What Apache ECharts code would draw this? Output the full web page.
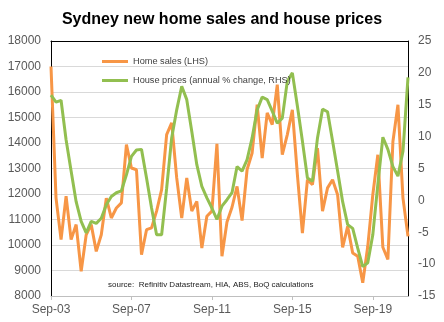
<!DOCTYPE html>
<html>
<head>
<meta charset="utf-8">
<script src="https://cdn.jsdelivr.net/npm/echarts@6/dist/echarts.min.js"></script>
<style>html,body{margin:0;padding:0;background:#fff}#c{width:444px;height:322px}</style>
</head>
<body>
<div id="c"></div>
<script>
var categories = [
 'Sep-03','Dec-03','Mar-04','Jun-04','Sep-04','Dec-04','Mar-05','Jun-05','Sep-05','Dec-05','Mar-06','Jun-06',
 'Sep-06','Dec-06','Mar-07','Jun-07','Sep-07','Dec-07','Mar-08','Jun-08','Sep-08','Dec-08','Mar-09','Jun-09',
 'Sep-09','Dec-09','Mar-10','Jun-10','Sep-10','Dec-10','Mar-11','Jun-11','Sep-11','Dec-11','Mar-12','Jun-12',
 'Sep-12','Dec-12','Mar-13','Jun-13','Sep-13','Dec-13','Mar-14','Jun-14','Sep-14','Dec-14','Mar-15','Jun-15',
 'Sep-15','Dec-15','Mar-16','Jun-16','Sep-16','Dec-16','Mar-17','Jun-17','Sep-17','Dec-17','Mar-18','Jun-18',
 'Sep-18','Dec-18','Mar-19','Jun-19','Sep-19','Dec-19','Mar-20','Jun-20','Sep-20','Dec-20','Mar-21','Jun-21'
];
var homeSales = [
 17000,11840,10210,11910,10210,10800,8970,10400,10800,9750,10400,11840,
 11060,11450,11650,13940,13020,12950,9620,10600,10670,11330,12170,14330,
 14790,12630,11060,12630,11330,11710,9880,11130,11330,13970,9560,10900,
 11480,12300,10960,12960,13610,15500,13410,15180,14720,16290,13540,14330,
 15300,12760,10470,12560,12370,13800,11330,12240,12560,11970,9910,10730,
 9690,9560,8520,9950,11970,13540,9910,9430,14060,15500,11840,10340
];
var housePrices = [
 16.5,15.4,15.7,9.5,4.6,-0.2,-3.3,-5.1,-3.3,-3.6,-2.8,-0.7,
 0.6,1.2,1.5,4.0,6.9,7.9,8.0,3.5,-1.2,-5.4,-5.4,1.9,
 9.8,14.2,17.9,15.8,10.8,5.6,2.2,0.4,-1.2,-3.0,-0.9,0.1,
 1.2,5.3,4.6,6.4,9.8,14.2,16.2,15.8,14.0,12.1,12.9,18.7,
 20.0,14.8,9.3,3.5,3.0,9.8,14.3,13.9,9.3,4.6,-0.2,-3.8,
 -4.4,-7.5,-10.4,-9.8,-5.4,2.5,9.9,8.0,5.3,3.8,7.7,19.3
];
var seriesNames = ['Home sales (LHS)', 'House prices (annual % change, RHS)'];
var titleText = 'Sydney new home sales and house prices';
var sourceText = 'source:  Refinitiv Datastream, HIA, ABS, BoQ calculations';

var FONT = '"Liberation Sans", Arial, sans-serif';
var ORANGE = '#F79646', GREEN = '#92BF50';
var chart = echarts.init(document.getElementById('c'), null, {renderer: 'canvas'});
chart.setOption({
  animation: false,
  backgroundColor: '#ffffff',
  textStyle: {fontFamily: FONT},
  title: {
    text: titleText, left: 'center', top: 7,
    textStyle: {fontFamily: FONT, fontSize: 16, fontWeight: 'bold', color: '#000'}
  },
  legend: {
    orient: 'vertical', left: 102, top: 56, padding: 0,
    icon: 'rect', itemWidth: 26, itemHeight: 3, itemGap: 8,
    textStyle: {fontFamily: FONT, fontSize: 9.2, color: '#404040', lineHeight: 11},
    data: seriesNames
  },
  graphic: [{
    type: 'text', left: 108, top: 281,
    style: {text: sourceText, font: '8px ' + FONT, fill: '#222'}
  }],
  grid: {left: 51, right: 36, top: 41, bottom: 26, containLabel: false},
  xAxis: [{
    type: 'category', data: categories, boundaryGap: false, position: 'bottom',
    axisLine: {onZero: false, lineStyle: {color: '#BFBFBF', width: 1}},
    axisTick: {interval: 15, length: 4, lineStyle: {color: '#BFBFBF'}},
    axisLabel: {interval: 15, fontSize: 12, color: '#595959', margin: 8, fontFamily: FONT},
    splitLine: {show: false}
  }, {
    type: 'category', data: categories, boundaryGap: false, position: 'top',
    axisLine: {onZero: false, lineStyle: {color: '#000', width: 1}},
    axisTick: {show: false}, axisLabel: {show: false}, splitLine: {show: false}
  }],
  yAxis: [{
    type: 'value', min: 8000, max: 18000, interval: 1000, position: 'left',
    axisLine: {show: true, onZero: false, lineStyle: {color: '#000', width: 1}},
    axisTick: {show: false},
    axisLabel: {fontSize: 12, color: '#595959', margin: 10, fontFamily: FONT,
      formatter: function (v) { return String(v); }},
    splitLine: {show: true, lineStyle: {color: '#D9D9D9', width: 1}}
  }, {
    type: 'value', min: -15, max: 25, interval: 5, position: 'right',
    axisLine: {show: true, onZero: false, lineStyle: {color: '#000', width: 1}},
    axisTick: {show: false},
    axisLabel: {fontSize: 12, color: '#595959', margin: 10, fontFamily: FONT,
      formatter: function (v) { return String(v); }},
    splitLine: {show: false}
  }],
  series: [{
    name: seriesNames[0], type: 'line', data: homeSales, yAxisIndex: 0, xAxisIndex: 0,
    symbol: 'none', showSymbol: false,
    lineStyle: {color: ORANGE, width: 3}, itemStyle: {color: ORANGE}
  }, {
    name: seriesNames[1], type: 'line', data: housePrices, yAxisIndex: 1, xAxisIndex: 0,
    symbol: 'none', showSymbol: false,
    lineStyle: {color: GREEN, width: 3}, itemStyle: {color: GREEN}
  }]
});
</script>
</body>
</html>
